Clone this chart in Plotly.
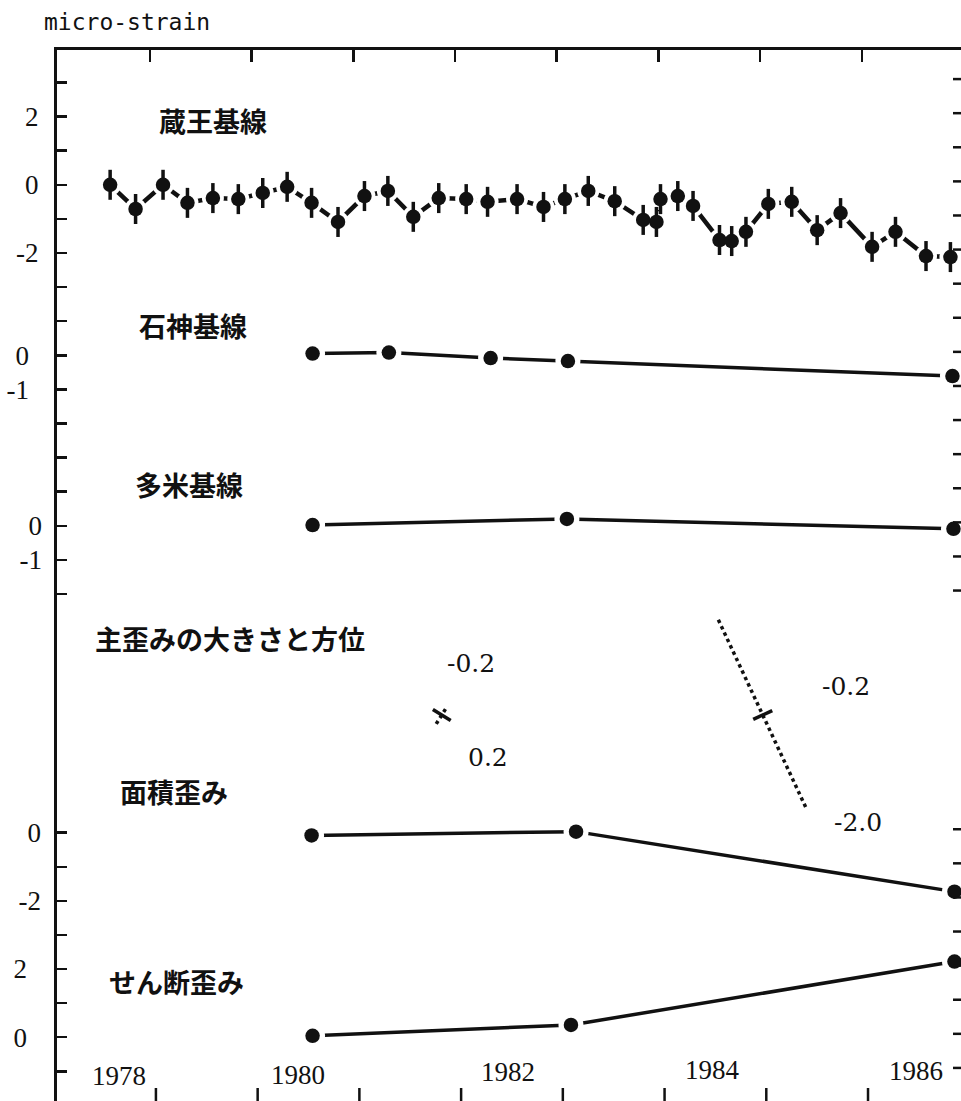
import math
import plotly.graph_objects as go

# ---------------- data ----------------
year_ticks = [1979, 1980, 1981, 1982, 1983, 1984, 1985, 1986]
year_labels = ["1978", "1980", "1982", "1984", "1986"]
year_label_pos = [1978.70, 1980.46, 1982.52, 1984.53, 1986.53]

# 蔵王基線 (Zao baseline), micro-strain
zao_t = [1978.61, 1978.86, 1979.13, 1979.37, 1979.62, 1979.87, 1980.11, 1980.35, 1980.59, 1980.85,
         1981.11, 1981.34, 1981.59, 1981.84, 1982.11, 1982.32, 1982.61, 1982.87, 1983.08, 1983.31,
         1983.57, 1983.85, 1983.98, 1984.02, 1984.19, 1984.34, 1984.60, 1984.72, 1984.86, 1985.08,
         1985.31, 1985.56, 1985.79, 1986.10, 1986.33, 1986.63, 1986.87]
zao_v = [0.00, -0.71, 0.00, -0.53, -0.39, -0.42, -0.24, -0.06, -0.53, -1.09,
         -0.33, -0.18, -0.94, -0.39, -0.42, -0.50, -0.42, -0.65, -0.42, -0.18,
         -0.48, -1.03, -1.09, -0.42, -0.33, -0.62, -1.62, -1.65, -1.38, -0.56,
         -0.50, -1.33, -0.83, -1.82, -1.38, -2.09, -2.12]
zao_err = 0.44

# 石神基線 (Ishigami baseline)
ishigami_t = [1980.60, 1981.35, 1982.35, 1983.11, 1986.89]
ishigami_v = [0.05, 0.08, -0.08, -0.17, -0.61]

# 多米基線 (Tame baseline)
tame_t = [1980.60, 1983.10, 1986.90]
tame_v = [0.02, 0.20, -0.09]

# 面積歪み (areal strain)
area_t = [1980.59, 1983.19, 1986.91]
area_v = [-0.08, 0.03, -1.73]

# せん断歪み (shear strain)
shear_t = [1980.60, 1983.14, 1986.91]
shear_v = [0.04, 0.36, 2.22]

# 主歪みの大きさと方位 (principal strains per survey interval)
ps_t_start = [1980.60, 1983.14]
ps_t_end = [1983.14, 1986.91]
ps_emax = [0.2, -0.2]
ps_emin = [-0.2, -2.0]
ps_az_max = [-58.0, 65.0]   # azimuth of the max-strain axis, degrees from north

# ---------------- layout constants ----------------
W, H = 961, 1101
ML, MT = 57, 50
X0, X1 = 1978.0876, 1986.974
Y_TOP, Y_BOT = 3.953, -26.87
PX_PER_YEAR = (W - ML) / (X1 - X0)
PX_PER_UNIT = (H - MT) / (Y_TOP - Y_BOT)
OFF_ISHIGAMI, OFF_TAME, OFF_AREA, OFF_SHEAR = 5, 10, 19, 25
PS_LEVEL = -15.55
PS_SCALE = 105.0   # px of bar length per unit strain

BLACK = "#111111"
NUM_FONT = dict(family="Liberation Serif", size=27, color=BLACK)
CJK_FONT = dict(family="Noto Sans CJK JP", size=27, color=BLACK, weight="bold")


def pxx(px):
    return (px - ML) / (W - ML)


def pxy(py):
    return (H - py) / (H - MT)


fig = go.Figure()


def add_series(t, v, yaxis, line_w, gap_size, err=None):
    fig.add_trace(go.Scatter(
        x=t, y=v, mode="lines+markers", xaxis="x", yaxis=yaxis,
        line=dict(color=BLACK, width=line_w),
        marker=dict(size=gap_size, color="white", line=dict(width=0)),
        hoverinfo="skip", showlegend=False))
    kw = {}
    if err is not None:
        kw["error_y"] = dict(type="constant", value=err, width=0, thickness=3.5, color=BLACK)
    fig.add_trace(go.Scatter(
        x=t, y=v, mode="markers", xaxis="x", yaxis=yaxis,
        marker=dict(size=14.5, color=BLACK, line=dict(width=0)),
        showlegend=False, **kw))


add_series(zao_t, zao_v, "y", 4.5, 22, err=zao_err)
add_series(ishigami_t, ishigami_v, "y2", 3.5, 25)
add_series(tame_t, tame_v, "y3", 3.5, 25)
add_series(area_t, area_v, "y4", 3.5, 25)
add_series(shear_t, shear_v, "y5", 3.5, 25)

# principal strain crosses (dotted = min axis, solid = max axis)
for i in range(len(ps_emax)):
    tc = 0.5 * (ps_t_start[i] + ps_t_end[i])
    for e, az, dash in [(ps_emin[i], ps_az_max[i] + 90.0, "3.5px,3.5px"),
                        (ps_emax[i], ps_az_max[i], "solid")]:
        half = abs(e) * PS_SCALE / 2.0
        dx = half * math.sin(math.radians(az)) / PX_PER_YEAR
        dy = half * math.cos(math.radians(az)) / PX_PER_UNIT
        fig.add_trace(go.Scatter(
            x=[tc - dx, tc + dx], y=[PS_LEVEL - dy, PS_LEVEL + dy], mode="lines",
            xaxis="x", yaxis="y", line=dict(color=BLACK, width=3.5, dash=dash),
            hoverinfo="skip", showlegend=False))

main_ticks = list(range(3, -13, -1)) + list(range(-19, -27, -1))
zao_lab = {2: "2", 0: "0", -2: "-2"}
main_text = [zao_lab.get(v, "") for v in main_ticks]

base_ax = dict(showgrid=False, zeroline=False, fixedrange=True)
hidden_line = dict(showline=False, linewidth=0, linecolor="rgba(0,0,0,0)", mirror=False)


def label_axis(offset, vals, standoff):
    return dict(base_ax, **hidden_line, overlaying="y", anchor="x", side="left",
                range=[Y_BOT + offset, Y_TOP + offset], ticks="",
                tickvals=vals, ticktext=[("%g" % v) for v in vals],
                tickfont=NUM_FONT, ticklabelstandoff=standoff)


# right-hand and bottom tick marks (those frame lines lie just outside the picture)
RIGHT_SHIFT = 0.1
BOTTOM_SHIFT = 0.06
shapes = [dict(type="line", xref="paper", yref="y", x0=1 - 8 / (W - ML), x1=1,
               y0=v + RIGHT_SHIFT, y1=v + RIGHT_SHIFT, line=dict(color=BLACK, width=2.5))
          for v in main_ticks]
shapes += [dict(type="line", xref="x", yref="paper", x0=yr + BOTTOM_SHIFT, x1=yr + BOTTOM_SHIFT,
                y0=0, y1=13 / (H - MT), line=dict(color=BLACK, width=2.5))
           for yr in year_ticks]

fig.update_layout(
    width=W, height=H, autosize=False,
    margin=dict(l=ML, r=0, t=MT, b=0, pad=0),
    paper_bgcolor="white", plot_bgcolor="rgba(0,0,0,0)", showlegend=False,
    xaxis=dict(base_ax, range=[X0, X1], side="top", anchor="y", showline=True, mirror=False,
               linecolor=BLACK, linewidth=3, ticks="inside", ticklen=12, tickwidth=2.5,
               tickcolor=BLACK, tickvals=year_ticks, showticklabels=False),
    yaxis=dict(base_ax, range=[Y_BOT, Y_TOP], side="left", anchor="x", showline=True,
               mirror=False, linecolor=BLACK, linewidth=3, ticks="inside", ticklen=10,
               tickwidth=2.5, tickcolor=BLACK, tickvals=main_ticks, ticktext=main_text,
               tickfont=NUM_FONT, ticklabelstandoff=10),
    yaxis2=label_axis(OFF_ISHIGAMI, [0, -1], 27),
    yaxis3=label_axis(OFF_TAME, [0, -1], 14),
    yaxis4=label_axis(OFF_AREA, [0, -2], 15),
    yaxis5=label_axis(OFF_SHEAR, [2, 0], 29),
    shapes=shapes,
)

annotations = []
annotations.append(dict(text="micro-strain", x=pxx(42), y=pxy(22), xanchor="left",
                        yanchor="middle", font=dict(family="DejaVu Sans Mono", size=23, color=BLACK)))
titles = [("蔵王基線", 157, 120), ("石神基線", 137, 325), ("多米基線", 133, 484),
          ("主歪みの大きさと方位", 93, 638), ("面積歪み", 118, 791), ("せん断歪み", 107, 981)]
for txt, lx, cy in titles:
    annotations.append(dict(text=txt, x=pxx(lx), y=pxy(cy), xanchor="left", yanchor="middle",
                            font=CJK_FONT))
year_label_y = [1076, 1075, 1072, 1070, 1071]
for lab, xv, yy in zip(year_labels, year_label_pos, year_label_y):
    annotations.append(dict(text=lab, x=xv, xref="x", y=pxy(yy), yref="paper",
                            xanchor="center", yanchor="middle", font=NUM_FONT))
# principal strain value labels: (value, x px, y px)
ps_label_pos = [(ps_emin[0], 471, 663), (ps_emax[0], 488, 757),
                (ps_emax[1], 846, 686), (ps_emin[1], 858, 822)]
for val, lx, ly in ps_label_pos:
    annotations.append(dict(text="%.1f" % val, x=pxx(lx), y=pxy(ly), xanchor="center",
                            yanchor="middle",
                            font=dict(family="DejaVu Serif", size=25, color=BLACK)))
for a in annotations:
    a.setdefault("xref", "paper")
    a.setdefault("yref", "paper")
    a["showarrow"] = False
fig.update_layout(annotations=annotations)

page_js = (
    "var st=document.createElement('style');"
    "st.textContent='html,body{margin:0;padding:0;overflow:hidden;}"
    "::-webkit-scrollbar{width:0;height:0;display:none;}';"
    "document.head.appendChild(st);"
    "document.documentElement.style.overflow='hidden';"
    "document.body.style.margin='0px';"
    "document.body.style.overflow='hidden';"
)
fig.write_html(
    "out.html",
    config={"displayModeBar": False, "staticPlot": True},
    post_script=page_js,
)
